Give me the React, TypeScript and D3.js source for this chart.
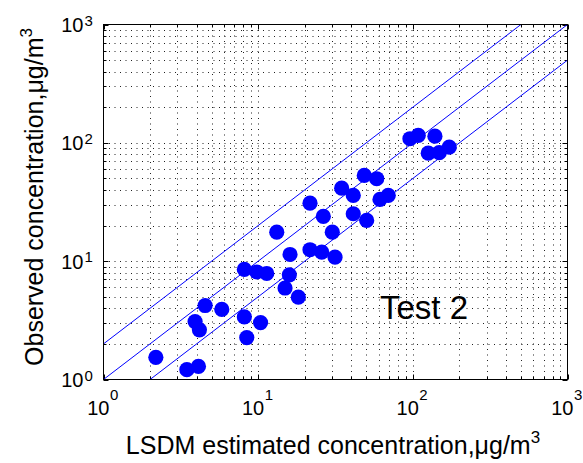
import React from "react";
import * as d3 from "d3";

// Estimated (x = LSDM estimated, y = observed) concentrations, µg/m³
const estimated = [
  2.18, 3.46, 4.11, 3.91, 4.17, 4.54, 5.82, 8.14, 8.14, 8.44,
  9.79, 10.36, 11.36, 13.19, 14.92, 15.91, 16.07, 18.18, 21.64, 21.64,
  25.76, 26.38, 30.15, 31.4, 34.67, 41.2, 41.2, 50.3, 48.53, 58.39,
  61.31, 69.36, 95.8, 108.4, 138.9, 125.8, 148.1, 171.9,
];
const observed = [
  1.54, 1.21, 1.29, 3.09, 2.63, 4.22, 3.91, 8.51, 3.38, 2.26,
  8.1, 3.03, 7.87, 17.59, 5.93, 7.67, 11.39, 4.96, 30.93, 12.49,
  11.92, 23.87, 17.59, 10.81, 41.42, 35.93, 25.16, 22.08, 53.03, 49.72,
  33.23, 35.93, 108.3, 115.5, 113.9, 81.8, 82.5, 91.9,
];
const lineRatios = [2, 1, 0.5];
const majorTicks = [1, 10, 100, 1000];
const tickExponents = ["0", "1", "2", "3"];
const xLabel = "LSDM estimated concentration,\u03bcg/m";
const yLabel = "Observed concentration,\u03bcg/m";
const annotation = "Test 2";

const W = 583;
const H = 463;
const L = 103.5;
const R = 567.5;
const T = 24.5;
const B = 379.5;
const FONT = "'Liberation Sans', Arial, Helvetica, sans-serif";

export default function App() {
  const x = d3.scaleLog().domain([1, 1000]).range([L, R]);
  const y = d3.scaleLog().domain([1, 1000]).range([B, T]);

  const minor: number[] = [];
  for (let e = 0; e < 3; e++) {
    for (let m = 2; m <= 9; m++) minor.push(m * Math.pow(10, e));
  }
  const gridVals = [...majorTicks.slice(1, 3), ...minor];

  const line = d3
    .line<[number, number]>()
    .x((d) => x(d[0]))
    .y((d) => y(d[1]));

  return (
    <svg
      width={W}
      height={H}
      style={{ position: "absolute", left: 0, top: 0, background: "#fff" }}
      fontFamily={FONT}
    >
      <defs>
        <clipPath id="plot">
          <rect x={L} y={T} width={R - L} height={B - T} />
        </clipPath>
      </defs>
      <rect x={0} y={0} width={W} height={H} fill="#fff" />
      {/* grid */}
      <g stroke="#222" strokeWidth={1} strokeDasharray="1,4.5" fill="none">
        {gridVals.map((v, i) => (
          <line key={"gx" + i} x1={Math.round(x(v)) + 0.5} x2={Math.round(x(v)) + 0.5} y1={T} y2={B} />
        ))}
        {gridVals.map((v, i) => (
          <line key={"gy" + i} y1={Math.round(y(v)) + 0.5} y2={Math.round(y(v)) + 0.5} x1={L} x2={R} />
        ))}
      </g>
      {/* ticks (inward, all sides) */}
      <g stroke="#000" strokeWidth={1}>
        {[...majorTicks, ...minor].map((v, i) => {
          const len = majorTicks.includes(v) ? 5 : 3;
          const px = Math.round(x(v)) + 0.5;
          const py = Math.round(y(v)) + 0.5;
          return (
            <g key={"t" + i}>
              <line x1={px} x2={px} y1={B} y2={B - len} />
              <line x1={px} x2={px} y1={T} y2={T + len} />
              <line y1={py} y2={py} x1={L} x2={L + len} />
              <line y1={py} y2={py} x1={R} x2={R - len} />
            </g>
          );
        })}
      </g>
      {/* reference lines */}
      <g clipPath="url(#plot)" stroke="#0000ff" strokeWidth={1} fill="none">
        {lineRatios.map((r, i) => (
          <path key={"l" + i} d={line([[0.5, 0.5 * r], [2000, 2000 * r]]) || ""} />
        ))}
      </g>
      {/* points */}
      <g clipPath="url(#plot)" fill="#0000ff">
        {estimated.map((v, i) => (
          <circle key={"p" + i} cx={x(v)} cy={y(observed[i])} r={7.6} />
        ))}
      </g>
      {/* frame */}
      <rect x={L} y={T} width={R - L} height={B - T} fill="none" stroke="#000" strokeWidth={1} />
      {/* x tick labels */}
      {majorTicks.map((v, i) => (
        <g key={"xl" + i}>
          <text x={x(v) + 6} y={415} fontSize={20} textAnchor="end">10</text>
          <text x={x(v) + 6.5} y={400} fontSize={15}>{tickExponents[i]}</text>
        </g>
      ))}
      {/* y tick labels */}
      {majorTicks.map((v, i) => (
        <g key={"yl" + i}>
          <text x={83.5} y={y(v) + 7.5} fontSize={20} textAnchor="end">10</text>
          <text x={84.5} y={y(v) + 1} fontSize={15}>{tickExponents[i]}</text>
        </g>
      ))}
      {/* axis labels */}
      <text x={333} y={454} fontSize={25} textAnchor="middle">
        {xLabel}
        <tspan fontSize={17} dy={-11}>3</tspan>
      </text>
      <text transform="translate(43,197) rotate(-90)" fontSize={25} textAnchor="middle">
        {yLabel}
        <tspan fontSize={17} dy={-11}>3</tspan>
      </text>
      <text x={380} y={319} fontSize={33}>{annotation}</text>
    </svg>
  );
}
